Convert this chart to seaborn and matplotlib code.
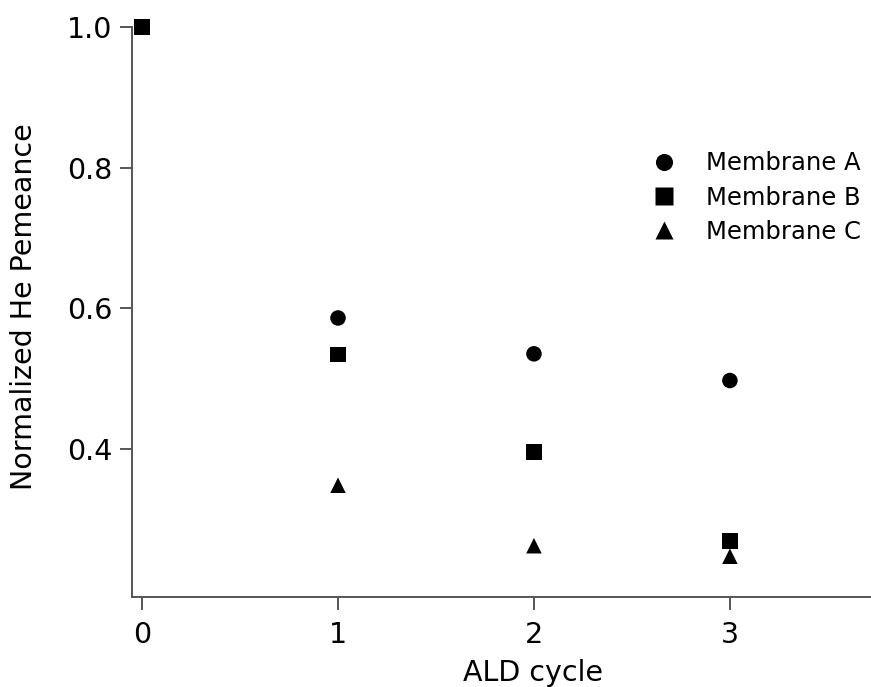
import pandas as pd
import numpy as np
import seaborn as sns
import matplotlib.pyplot as plt

# values
cycles = [0, 1, 2, 3]
membrane_a = [1.0, 0.586, 0.535, 0.497]
membrane_b = [1.0, 0.534, 0.395, 0.269]
membrane_c = [1.0, 0.348, 0.262, 0.247]
labels = ["Membrane A", "Membrane B", "Membrane C"]

df = pd.DataFrame({
    "cycle": cycles * 3,
    "perm": membrane_a + membrane_b + membrane_c,
    "membrane": [labels[0]] * 4 + [labels[1]] * 4 + [labels[2]] * 4,
})

sns.set_style("ticks")
plt.rcParams["font.family"] = ["DejaVu Sans"]
plt.rcParams["text.color"] = "black"
plt.rcParams["axes.labelcolor"] = "black"

fig = plt.figure(figsize=(8.71, 6.87), dpi=100)
ax = fig.add_axes([0.1516, 0.131, 0.8484, 0.8297])

sns.scatterplot(data=df, x="cycle", y="perm", style="membrane",
                markers={labels[0]: "o", labels[1]: "s", labels[2]: "^"},
                color="black", s=125, edgecolor="none", ax=ax, clip_on=False)

ax.set_xlim(-0.051, 3.72)
ax.set_ylim(0.189, 1.0)
ax.set_xticks([0, 1, 2, 3])
ax.set_yticks([0.4, 0.6, 0.8, 1.0])
ax.set_yticklabels(["0.4", "0.6", "0.8", "1.0"])

for side in ["top", "right"]:
    ax.spines[side].set_visible(False)
for side in ["left", "bottom"]:
    ax.spines[side].set_color("#555555")
    ax.spines[side].set_linewidth(1.4)
ax.tick_params(axis="both", direction="out", length=9, width=1.4,
               color="#555555", labelcolor="black", labelsize=20.5, pad=5)
ax.tick_params(axis="x", pad=8)

ax.set_xlabel("ALD cycle", fontsize=20.5)
ax.set_ylabel("Normalized He Pemeance", fontsize=20.5)
ax.xaxis.set_label_coords(0.543, -0.108)
ax.yaxis.set_label_coords(-0.127, 0.51)

leg = ax.legend(frameon=False, loc="upper left", bbox_to_anchor=(0.658, 0.82),
                fontsize=17.5, handletextpad=0.7, labelspacing=0.42,
                markerscale=1.1)
for h in leg.legend_handles:
    h.set_color("black")

fig.savefig("out.png", dpi=100)
